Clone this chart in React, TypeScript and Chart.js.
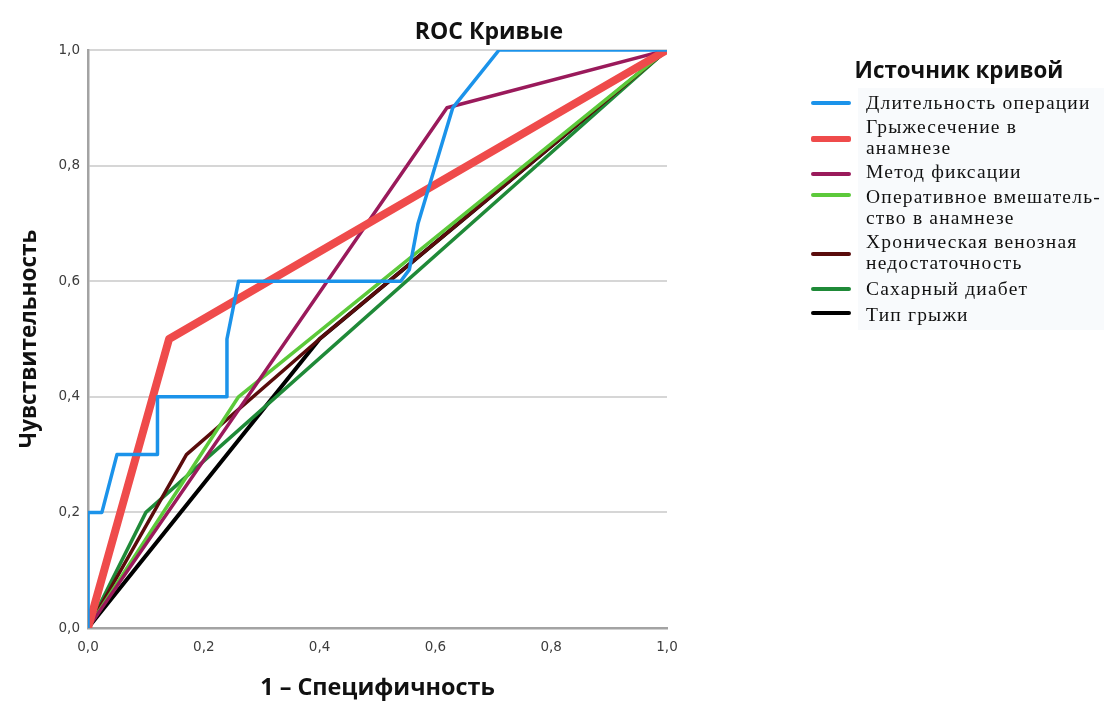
import React, { useEffect, useRef } from "react";
import { Chart, registerables } from "chart.js";
Chart.register(...registerables);

const chartTitle = "ROC Кривые";
const xAxisTitle = "1 – Специфичность";
const yAxisTitle = "Чувствительность";
const legendTitle = "Источник кривой";
const tickValues = [0, 0.2, 0.4, 0.6, 0.8, 1.0];

const seriesLabels = [
  ["Длительность операции"],
  ["Грыжесечение в", "анамнезе"],
  ["Метод фиксации"],
  ["Оперативное вмешатель-", "ство в анамнезе"],
  ["Хроническая венозная", "недостаточность"],
  ["Сахарный диабет"],
  ["Тип грыжи"],
];
const seriesColors = ["#1b93ea", "#ef4b4b", "#9a1a5b", "#5cc93a", "#5a0c0c", "#1f8a38", "#000000"];
const seriesWidths = [3.5, 8, 3.5, 3.5, 3.5, 3.5, 4];

// ROC points: 1 - specificity (x) and sensitivity (y)
const durationX = [0, 0, 0.024, 0.05, 0.12, 0.12, 0.24, 0.24, 0.26, 0.54, 0.555, 0.57, 0.6, 0.63, 0.71, 1];
const durationY = [0, 0.2, 0.2, 0.3, 0.3, 0.4, 0.4, 0.5, 0.6, 0.6, 0.62, 0.7, 0.8, 0.9, 1, 1];
const herniotomyX = [0, 0.14, 1];
const herniotomyY = [0, 0.5, 1];
const fixationX = [0, 0.62, 1];
const fixationY = [0, 0.9, 1];
const surgeryX = [0, 0.26, 1];
const surgeryY = [0, 0.4, 1];
const venousX = [0, 0.17, 0.4, 1];
const venousY = [0, 0.3, 0.5, 1];
const diabetesX = [0, 0.1, 1];
const diabetesY = [0, 0.2, 1];
const herniaTypeX = [0, 0.4, 1];
const herniaTypeY = [0, 0.5, 1];

const seriesX = [durationX, herniotomyX, fixationX, surgeryX, venousX, diabetesX, herniaTypeX];
const seriesY = [durationY, herniotomyY, fixationY, surgeryY, venousY, diabetesY, herniaTypeY];

const fmt = (v: number) => Number(v).toFixed(1).replace(".", ",");

const legendSwatchY = [103, 139, 174, 195, 254, 289, 313];
const legendTextY = [[103], [127, 148], [172], [197, 218], [242, 263], [289], [315]];

export default function App() {
  const ref = useRef<HTMLCanvasElement>(null);
  useEffect(() => {
    if (!ref.current) return;
    const datasets = seriesLabels.map((lbl, i) => ({
      label: lbl.join(" "),
      data: seriesX[i].map((x, j) => ({ x, y: seriesY[i][j] })),
      borderColor: seriesColors[i],
      backgroundColor: seriesColors[i],
      borderWidth: seriesWidths[i],
      pointRadius: 0,
      tension: 0,
      fill: false,
      borderJoinStyle: "round" as const,
    }));
    const chart = new Chart(ref.current, {
      type: "line",
      data: { datasets },
      options: {
        animation: false,
        responsive: false,
        layout: { padding: { left: 8, top: 50, right: 437, bottom: 0 } },
        plugins: { legend: { display: false }, tooltip: { enabled: false }, title: { display: false } },
        scales: {
          x: {
            type: "linear",
            min: 0,
            max: 1,
            afterBuildTicks: (s: any) => { s.ticks = tickValues.map((v) => ({ value: v })); },
            afterFit: (s: any) => { s.height = 74; },
            grid: { display: false, drawTicks: false },
            border: { display: true, color: "#a3a3a3", width: 2.5 },
            ticks: { padding: 11, color: "#3c3c3c", font: { family: "DejaVu Sans", size: 13.5 }, callback: (v: any) => fmt(v), maxRotation: 0 },
            title: { display: true, text: xAxisTitle, color: "#111", font: { family: "Open Sans", size: 23.4, weight: "bold" }, padding: { top: 0, bottom: 0 } },
          },
          y: {
            type: "linear",
            min: 0,
            max: 1,
            afterBuildTicks: (s: any) => { s.ticks = tickValues.map((v) => ({ value: v })); },
            afterFit: (s: any) => { s.width = 80; },
            grid: { color: "#d6d6d6", lineWidth: 2, drawTicks: false },
            border: { display: true, color: "#a3a3a3", width: 2.5 },
            ticks: { padding: 8, color: "#3c3c3c", font: { family: "DejaVu Sans", size: 13.5 }, callback: (v: any) => fmt(v) },
            title: { display: true, text: yAxisTitle, color: "#111", font: { family: "Open Sans", size: 22.5, weight: "bold" }, padding: { top: 8, bottom: 0 } },
          },
        },
      },
    });
    return () => chart.destroy();
  }, []);

  return (
    <div style={{ position: "absolute", left: 0, top: 0, width: 1104, height: 702, background: "#fff", overflow: "hidden" }}>
      <canvas ref={ref} width={1104} height={702} style={{ position: "absolute", left: 0, top: 0, width: 1104, height: 702 }} />
      <div style={{ position: "absolute", left: 360, width: 258, top: 14, textAlign: "center", fontFamily: "Open Sans", fontWeight: "bold", fontSize: 23, lineHeight: "32px", color: "#111" }}>
        {chartTitle}
      </div>
      <div style={{ position: "absolute", left: 858, top: 88, width: 246, height: 242, background: "#f8fafc" }} />
      <div style={{ position: "absolute", left: 839, width: 240, top: 55, textAlign: "center", fontFamily: "Open Sans", fontWeight: "bold", fontSize: 22.3, lineHeight: "30px", color: "#111" }}>
        {legendTitle}
      </div>
      {seriesLabels.map((lines, i) => (
        <React.Fragment key={i}>
          <div style={{ position: "absolute", left: 811, width: 40, top: legendSwatchY[i] - (i === 1 ? 3 : 2), height: i === 1 ? 6 : 4, borderRadius: 2, background: seriesColors[i] }} />
          {lines.map((t, k) => (
            <div key={k} style={{ position: "absolute", left: 866, top: legendTextY[i][k] - 12, height: 24, lineHeight: "24px", whiteSpace: "nowrap", fontFamily: "Liberation Serif", fontSize: 19.5, letterSpacing: "1.2px", color: "#111" }}>
              {t}
            </div>
          ))}
        </React.Fragment>
      ))}
    </div>
  );
}
